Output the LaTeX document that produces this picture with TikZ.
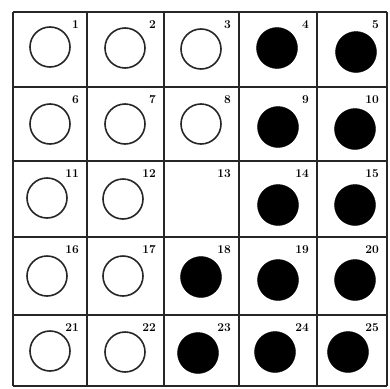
\documentclass[tikz,border=0pt]{standalone}
\begin{document}
\begin{tikzpicture}[x=1pt,y=-1pt,
  gridline/.style={line width=1.6pt,black!85},
  opencirc/.style={circle,draw=black!85,line width=1.6pt,minimum size=40pt,inner sep=0pt},
  fullcirc/.style={circle,fill=black,draw=black,minimum size=41pt,inner sep=0pt},
  numlabel/.style={anchor=north east,inner sep=0pt,font=\fontsize{12}{12}\selectfont\bfseries}]
\useasboundingbox (0,0) rectangle (390,388);
\fill[white] (0,0) rectangle (390,388);
% grid
\foreach \x in {13,87,164,239,317,387} \draw[gridline] (\x,12) -- (\x,386);
\foreach \y in {12,87,161,237,315,386} \draw[gridline] (13,\y) -- (387,\y);
% cell numbers
\foreach \r/\top in {0/12,1/87,2/161,3/237,4/315} {
  \foreach \c/\right in {1/87,2/164,3/239,4/317,5/387} {
    \pgfmathtruncatemacro{\n}{\r*5+\c}
    \node[numlabel] (n\n) at (\right-8,\top+8) {\n};
  }
}
% open circles
\foreach \n/\cx/\cy in {1/50/47,2/125/48,3/201/49,6/50/124,7/125/124,8/201/124,11/47/198,12/123/199,16/47/276,17/123/276,21/50/351,22/125/352} {
  \node[opencirc] (c\n) at (\cx,\cy) {};
}
% filled circles
\foreach \n/\cx/\cy in {4/277/48,5/356/52,9/278/127,10/355/129,14/278/205,15/355/205,18/201/277,19/278/280,20/355/280,23/198/353,24/275/352,25/348/352} {
  \node[fullcirc] (c\n) at (\cx,\cy) {};
}
\end{tikzpicture}
\end{document}
